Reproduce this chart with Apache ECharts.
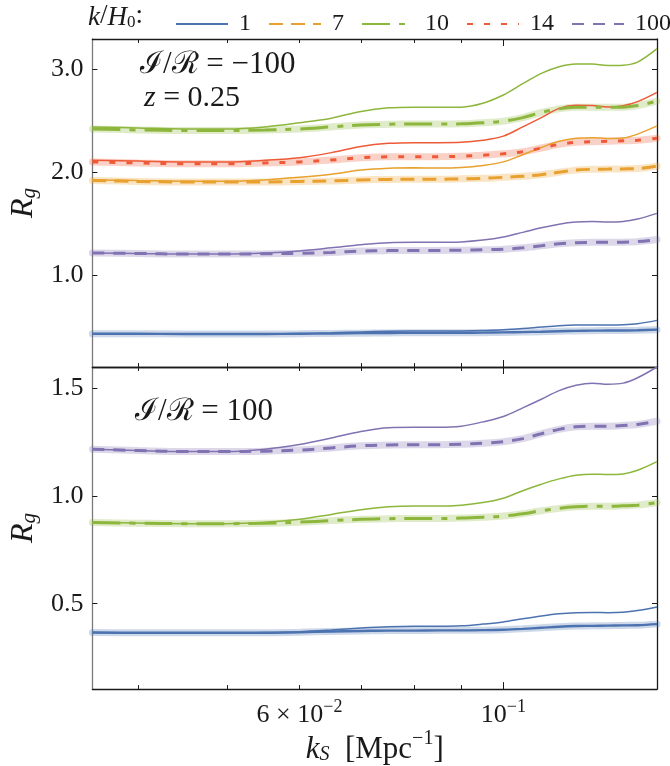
<!DOCTYPE html>
<html><head><meta charset="utf-8">
<script src="https://cdn.jsdelivr.net/npm/echarts@6/dist/echarts.min.js"></script>
<style>html,body{margin:0;padding:0;background:#fff}#c{width:670px;height:766px}</style>
</head><body><div id="c"></div>
<script>
// ---------------- data ----------------
const kValues = [0.0357,0.04,0.045,0.05,0.055,0.06,0.065,0.07,0.075,0.08,0.085,0.09,0.095,0.1,0.105,0.11,0.115,0.12,0.125,0.13,0.135,0.14,0.147];

// upper panel: I/R = -100
const upK1Full    = [0.43,0.43,0.428,0.428,0.43,0.432,0.44,0.448,0.455,0.457,0.457,0.458,0.462,0.468,0.48,0.495,0.508,0.515,0.516,0.515,0.517,0.527,0.56];
const upK1Approx  = [0.43,0.43,0.428,0.428,0.428,0.43,0.433,0.436,0.438,0.439,0.439,0.44,0.441,0.443,0.446,0.45,0.455,0.458,0.46,0.461,0.462,0.464,0.47];
const upK7Full    = [1.925,1.918,1.912,1.912,1.925,1.95,1.98,2.02,2.038,2.042,2.04,2.045,2.065,2.10,2.17,2.24,2.30,2.33,2.335,2.328,2.332,2.37,2.45];
const upK7Approx  = [1.92,1.91,1.905,1.905,1.905,1.91,1.915,1.925,1.93,1.932,1.932,1.935,1.94,1.95,1.96,1.975,2.00,2.02,2.028,2.03,2.032,2.035,2.06];
const upK10Full   = [2.44,2.43,2.42,2.42,2.44,2.48,2.525,2.59,2.625,2.632,2.63,2.632,2.67,2.75,2.86,2.96,3.025,3.052,3.05,3.037,3.04,3.07,3.20];
const upK10Approx = [2.42,2.41,2.405,2.405,2.41,2.42,2.44,2.458,2.466,2.468,2.468,2.47,2.48,2.495,2.53,2.58,2.615,2.63,2.632,2.63,2.632,2.648,2.69];
const upK14Full   = [2.115,2.108,2.10,2.10,2.115,2.14,2.19,2.25,2.28,2.287,2.287,2.29,2.31,2.35,2.44,2.53,2.62,2.65,2.647,2.633,2.645,2.685,2.775];
const upK14Approx = [2.10,2.09,2.082,2.082,2.09,2.10,2.118,2.14,2.15,2.151,2.151,2.155,2.165,2.178,2.198,2.235,2.27,2.29,2.296,2.30,2.305,2.31,2.33];
const upK100Full  = [1.215,1.21,1.205,1.205,1.215,1.235,1.265,1.295,1.315,1.318,1.318,1.322,1.34,1.37,1.415,1.46,1.495,1.515,1.52,1.515,1.52,1.545,1.60];
const upK100Approx= [1.215,1.21,1.205,1.205,1.207,1.212,1.22,1.233,1.238,1.24,1.24,1.242,1.246,1.252,1.265,1.285,1.305,1.315,1.318,1.318,1.32,1.325,1.345];

// lower panel: I/R = 100
const loK1Full    = [0.366,0.365,0.364,0.364,0.366,0.37,0.378,0.387,0.393,0.395,0.395,0.397,0.405,0.415,0.43,0.443,0.453,0.458,0.459,0.458,0.46,0.468,0.485];
const loK1Approx  = [0.366,0.365,0.365,0.365,0.365,0.367,0.371,0.373,0.375,0.375,0.376,0.376,0.377,0.379,0.383,0.388,0.393,0.396,0.397,0.398,0.399,0.40,0.405];
const loK10Full   = [0.878,0.875,0.872,0.872,0.878,0.892,0.915,0.937,0.95,0.954,0.954,0.958,0.97,0.99,1.025,1.055,1.08,1.097,1.102,1.10,1.103,1.12,1.16];
const loK10Approx = [0.877,0.874,0.872,0.872,0.874,0.879,0.886,0.892,0.895,0.896,0.896,0.898,0.902,0.907,0.918,0.932,0.943,0.95,0.953,0.953,0.955,0.958,0.97];
const loK100Full  = [1.218,1.212,1.207,1.207,1.218,1.24,1.27,1.30,1.318,1.32,1.32,1.325,1.345,1.37,1.41,1.45,1.49,1.515,1.525,1.52,1.525,1.55,1.60];
const loK100Approx= [1.218,1.212,1.207,1.207,1.209,1.214,1.224,1.234,1.238,1.239,1.239,1.241,1.246,1.253,1.267,1.29,1.31,1.322,1.325,1.325,1.328,1.333,1.348];

// ticks
const xMinorTicks = [0.04,0.05,0.06,0.07,0.08,0.09];
const xMajorTicks = [0.1];
const xLabelTicks = [0.06,0.1];
const yTicksUpper = [1.0,2.0,3.0];
const yTicksLower = [0.5,1.0,1.5];
const legendNames = ['1','7','10','14','100'];

// ---------------- styling ----------------
const SERIF = "'Liberation Serif','DejaVu Serif',serif";
const INK = '#1a1a1a';
const COL = {'1':'#4c72b0','7':'#e8a02e','10':'#8db63c','14':'#ee5a37','100':'#8172b2'};
const DASH = {'1':'solid','7':[14,8],'10':[28,9,6,9],'14':[6,11],'100':[12,9]};
const X_MIN = 0.0357, X_MAX = 0.147;
const Y_RANGE = [[0.107,3.294],[0.103,1.60]];
const grids = [{left:92,top:39,width:565,height:328},{left:92,top:367,width:565,height:327}];
const yTicks = [yTicksUpper,yTicksLower];

const richM = {fontFamily:SERIF,fontSize:26,color:INK,lineHeight:30,verticalAlign:'bottom'};
const richSup = {fontFamily:SERIF,fontSize:18,color:INK,lineHeight:14,verticalAlign:'top'};
function xLabelFmt(v){
  if (Math.abs(v-0.06)<1e-4) return '{m|6 × 10}{s|−2}';
  if (Math.abs(v-0.1)<1e-4) return '{m|10}{s|−1}';
  return '';
}

const xAxis = [];
grids.forEach((g,gi)=>{
  ['bottom','top'].forEach(pos=>{
    const isMain = gi===1 && pos==='bottom';
    xAxis.push({
      gridIndex:gi,type:'log',logBase:10,min:X_MIN,max:X_MAX,position:pos,
      axisLine:{show:true,onZero:false,lineStyle:{color:INK,width:1.3}},
      axisTick:{show:true,inside:true,length:4,customValues:xMinorTicks,lineStyle:{color:INK,width:1}},
      minorTick:{show:false},splitLine:{show:false},
      axisLabel:{show:isMain,customValues:xLabelTicks,formatter:xLabelFmt,margin:9,rich:{m:richM,s:richSup}},
      name:isMain?'{i|k}{sub|S}{m|  [Mpc}{sup|−1}{m|]}':'',
      nameLocation:'middle',nameGap:29,
      nameTextStyle:{rich:{
        i:{fontFamily:SERIF,fontStyle:'italic',fontSize:31,color:INK,lineHeight:36,verticalAlign:'bottom'},
        sub:{fontFamily:SERIF,fontStyle:'italic',fontSize:20,color:INK,lineHeight:18,verticalAlign:'bottom'},
        m:{fontFamily:SERIF,fontSize:31,color:INK,lineHeight:36,verticalAlign:'bottom'},
        sup:{fontFamily:SERIF,fontSize:20,color:INK,lineHeight:16,verticalAlign:'top'}
      }}
    });
    xAxis.push({
      gridIndex:gi,type:'log',logBase:10,min:X_MIN,max:X_MAX,position:pos,
      axisLine:{show:false},
      axisTick:{show:true,inside:true,length:7,customValues:xMajorTicks,lineStyle:{color:INK,width:1}},
      minorTick:{show:false},splitLine:{show:false},axisLabel:{show:false}
    });
  });
});

const yAxis = [];
grids.forEach((g,gi)=>{
  yAxis.push({
    gridIndex:gi,type:'value',min:Y_RANGE[gi][0],max:Y_RANGE[gi][1],position:'left',
    axisLine:{show:true,onZero:false,lineStyle:{color:'#7a7a7a',width:1.3}},
    axisTick:{show:true,inside:true,length:5,customValues:yTicks[gi],lineStyle:{color:INK}},
    axisLabel:{customValues:yTicks[gi],formatter:v=>v.toFixed(1),fontFamily:SERIF,fontSize:26,color:INK,margin:9},
    splitLine:{show:false},
    name:'{i|R}{sub|g}',nameLocation:'middle',nameRotate:90,nameGap:44,
    nameTextStyle:{rich:{
      i:{fontFamily:SERIF,fontStyle:'italic',fontSize:32,color:INK,lineHeight:36,verticalAlign:'bottom'},
      sub:{fontFamily:SERIF,fontStyle:'italic',fontSize:21,color:INK,lineHeight:20,verticalAlign:'bottom'}
    }}
  });
  yAxis.push({
    gridIndex:gi,type:'value',min:Y_RANGE[gi][0],max:Y_RANGE[gi][1],position:'right',
    axisLine:{show:true,onZero:false,lineStyle:{color:INK,width:1.3}},
    axisTick:{show:true,inside:true,length:5,customValues:yTicks[gi],lineStyle:{color:INK}},
    axisLabel:{show:false},splitLine:{show:false}
  });
});

function pts(vals){ return kValues.map((k,i)=>[k,vals[i]]); }
const series = [];
function addBand(gi,key,full,approx){
  const base = {type:'line',xAxisIndex:gi*4,yAxisIndex:gi*2,symbol:'none',smooth:0.35,silent:true,animation:false};
  series.push(Object.assign({},base,{name:key+' band',data:pts(approx),z:1,
    lineStyle:{color:COL[key],width:7,opacity:0.28,cap:'round'}}));
}
function addLines(gi,key,full,approx){
  const base = {type:'line',xAxisIndex:gi*4,yAxisIndex:gi*2,symbol:'none',smooth:0.35,silent:true,animation:false};
  series.push(Object.assign({},base,{name:key,data:pts(approx),z:3,itemStyle:{color:COL[key]},
    lineStyle:{color:COL[key],width:key==='1'?2.4:3,type:DASH[key]}}));
  series.push(Object.assign({},base,{name:key+' full',data:pts(full),z:2,
    lineStyle:{color:COL[key],width:1.5}}));
}
const upper = [['1',upK1Full,upK1Approx],['7',upK7Full,upK7Approx],['10',upK10Full,upK10Approx],['14',upK14Full,upK14Approx],['100',upK100Full,upK100Approx]];
const lower = [['1',loK1Full,loK1Approx],['10',loK10Full,loK10Approx],['100',loK100Full,loK100Approx]];
upper.forEach(s=>addLines(0,...s));
lower.forEach(s=>addLines(1,...s));
upper.forEach(s=>addBand(0,...s));
lower.forEach(s=>addBand(1,...s));

const chart = echarts.init(document.getElementById('c'),null,{renderer:'canvas'});
chart.setOption({
  animation:false,
  backgroundColor:'#fff',
  grid:grids,
  xAxis:xAxis,
  yAxis:yAxis,
  legend:{data:legendNames,left:175,top:12,width:497,padding:0,itemWidth:52,itemHeight:14,itemGap:17,selectedMode:false,
    itemStyle:{opacity:0},
    textStyle:{fontFamily:SERIF,fontSize:24,color:INK,padding:[0,0,0,6]}},
  graphic:[
    {type:'text',left:88,top:2,style:{text:'{i|k}/{i|H}{sub|0}:',fill:INK,fontFamily:SERIF,fontSize:27,
      rich:{i:{fontFamily:SERIF,fontStyle:'italic',fontSize:27,fill:INK,lineHeight:32,verticalAlign:'bottom'},
            sub:{fontFamily:SERIF,fontSize:17,fill:INK,lineHeight:16,verticalAlign:'bottom'}}}},
    {type:'text',left:140,top:49,style:{text:'ℐ/ℛ = −100',fill:INK,fontFamily:SERIF,fontSize:31}},
    {type:'text',left:144,top:83,style:{text:'{i|z}{n| = 0.25}',fill:INK,fontFamily:SERIF,fontSize:30,
      rich:{i:{fontFamily:SERIF,fontStyle:'italic',fontSize:30,fill:INK},
            n:{fontFamily:SERIF,fontSize:30,fill:INK}}}},
    {type:'text',left:135,top:396,style:{text:'ℐ/ℛ = 100',fill:INK,fontFamily:SERIF,fontSize:31}}
  ],
  series:series
});
</script></body></html>
